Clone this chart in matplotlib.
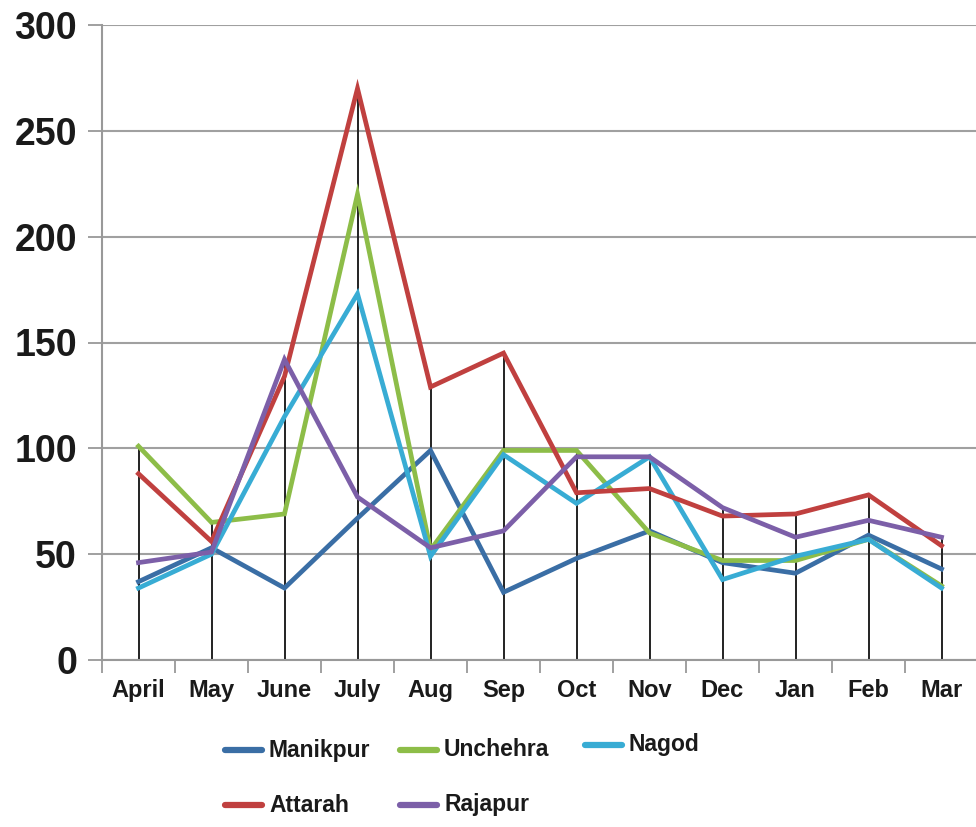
import matplotlib
matplotlib.use("Agg")
import matplotlib.pyplot as plt
from matplotlib.lines import Line2D
import numpy as np

months = ["April", "May", "June", "July", "Aug", "Sep", "Oct", "Nov", "Dec", "Jan", "Feb", "Mar"]
manikpur = [37, 53, 34, 67, 99, 32, 48, 61, 46, 41, 59, 43]
unchehra = [101, 65, 69, 220, 52, 99, 99, 60, 47, 47, 57, 35]
nagod = [34, 50, 115, 173, 49, 97, 74, 96, 38, 49, 57, 34]
attarah = [88, 56, 134, 270, 129, 145, 79, 81, 68, 69, 78, 54]
rajapur = [46, 51, 142, 77, 53, 61, 96, 96, 72, 58, 66, 58]

series = [
    ("Manikpur", manikpur, "#3a6ea5"),
    ("Unchehra", unchehra, "#8dbd48"),
    ("Nagod", nagod, "#38acd4"),
    ("Attarah", attarah, "#c0403f"),
    ("Rajapur", rajapur, "#7c5fa8"),
]

plt.rcParams['font.family'] = ['Liberation Sans', 'DejaVu Sans']

fig = plt.figure(figsize=(9.76, 8.27), dpi=100)
W, H = 976, 827
ax = fig.add_axes([102/W, 1 - 660/H, 876/W, 635/H])

x = np.arange(len(months))
tops = np.max(np.array([s[1] for s in series]), axis=0)
ax.vlines(x, 0, tops, color="#222222", lw=1.4, zorder=2)

colors = {}
for name, vals, col in series:
    ax.plot(x, vals, color=col, lw=3.4, label=name, zorder=3, solid_joinstyle="miter")
    colors[name] = col

ax.set_xlim(-0.5, len(months) - 0.5)
ax.set_ylim(0, 300)
ax.set_yticks(np.arange(0, 301, 50))
ax.set_yticklabels([str(v) for v in range(0, 301, 50)], fontsize=27, fontweight="bold",
                   color="#1a1a1a")
ax.yaxis.grid(True, color="#a0a0a0", lw=1.5)
ax.set_axisbelow(True)

ax.set_xticks(x)
ax.set_xticklabels(months, fontsize=17, fontweight="bold", color="#1a1a1a")
ax.tick_params(axis="x", length=0, pad=14)
ax.set_xticks(np.arange(-0.5, len(months), 1.0), minor=True)
ax.tick_params(axis="x", which="minor", length=9, color="#999999", width=1.3)
ax.tick_params(axis="y", length=10, color="#999999", width=1.3, pad=8)

for sp in ["top", "right"]:
    ax.spines[sp].set_visible(False)
for sp in ["left", "bottom"]:
    ax.spines[sp].set_color("#999999")
    ax.spines[sp].set_linewidth(1.5)

# legend laid out like the original (row-major, three columns)
legend_pos = {
    "Manikpur": (225, 750),
    "Unchehra": (400, 750),
    "Nagod": (585, 745),
    "Attarah": (225, 805),
    "Rajapur": (400, 805),
}
for name, (px, py) in legend_pos.items():
    fy = 1 - py / H
    fig.add_artist(Line2D([px / W, (px + 37) / W], [fy, fy], color=colors[name],
                          lw=4.5, solid_capstyle="round", transform=fig.transFigure))
    fig.text((px + 44) / W, fy, name, fontsize=16.5, fontweight="bold",
             va="center", ha="left", color="#1a1a1a")

fig.savefig("out.png", dpi=100)
